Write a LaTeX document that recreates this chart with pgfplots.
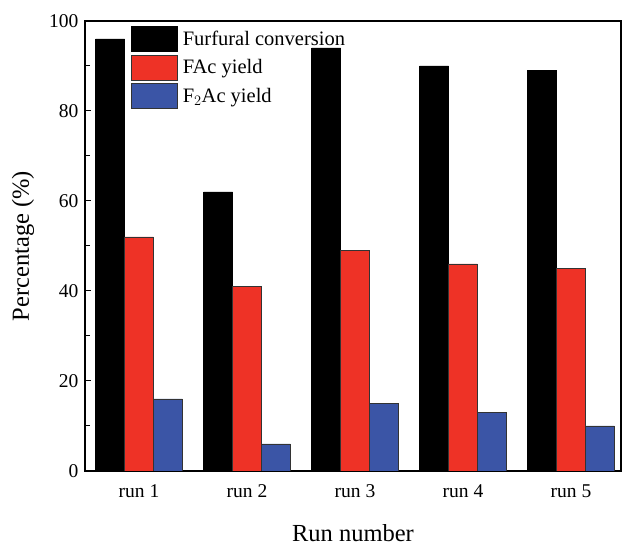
\documentclass[border=0pt]{standalone}
\usepackage{fontspec}
\setmainfont{Liberation Serif}
\usepackage{pgfplots}
\pgfplotsset{compat=1.18}
\definecolor{barred}{HTML}{EE3226}
\definecolor{barblue}{HTML}{3B55A6}
\begin{document}
\begin{tikzpicture}
\begin{axis}[
  name=ax,
  scale only axis,
  width=536pt, height=450pt,
  xmin=0.5, xmax=5.463,
  ymin=0, ymax=100,
  ytick={0,20,...,100},
  minor ytick={10,30,...,90},
  xtick={1,2,3,4,5},
  xticklabels={run 1,run 2,run 3,run 4,run 5},
  major x tick style={draw=none},
  ytick pos=left,
  tick align=inside,
  major tick length=6pt,
  minor tick length=5pt,
  every tick/.style={line width=1pt, black},
  axis line style={line width=1.3pt},
  /pgf/number format/assume math mode=true,
  tick label style={font=\fontsize{19.5}{23}\selectfont},
  yticklabel style={xshift=-3pt},
  xticklabel style={yshift=-4pt},
  xlabel={Run number},
  ylabel={Percentage (\%)},
  every axis x label/.style={at={(rel axis cs:0.5,0)}, anchor=base, yshift=-71pt, font=\fontsize{24.5}{29}\selectfont},
  every axis y label/.style={at={(rel axis cs:0,0.5)}, xshift=-56pt, rotate=90, anchor=base, font=\fontsize{24.5}{29}\selectfont},
  ybar,
  bar width=0.268,
  legend style={draw=none, fill=none, at={(0.0858,0.989)}, anchor=north west, inner sep=0pt, row sep=3pt, column sep=5pt,
    font=\fontsize{20.5}{24}\selectfont,
    nodes={inner sep=0pt, anchor=west}},
  legend cell align=left,
  legend image code/.code={\draw[#1] (0pt,-12.5pt) rectangle (46pt,12.5pt);},
]
\addplot[fill=black, draw=black, line width=0.6pt, bar shift=-0.268] coordinates {(1,96) (2,62) (3,94) (4,90) (5,89)};
\addplot[fill=barred, draw=black!80, line width=0.6pt, bar shift=0] coordinates {(1,52) (2,41) (3,49) (4,46) (5,45)};
\addplot[fill=barblue, draw=black!80, line width=0.6pt, bar shift=0.268] coordinates {(1,16) (2,6) (3,15) (4,13) (5,10)};
\legend{Furfural conversion, FAc yield, F$_2$Ac yield}
\end{axis}
\pgfresetboundingbox
\useasboundingbox ([shift={(-85pt,-75pt)}]ax.south west) rectangle ([shift={(1pt,21pt)}]ax.north east);
\end{tikzpicture}
\end{document}
